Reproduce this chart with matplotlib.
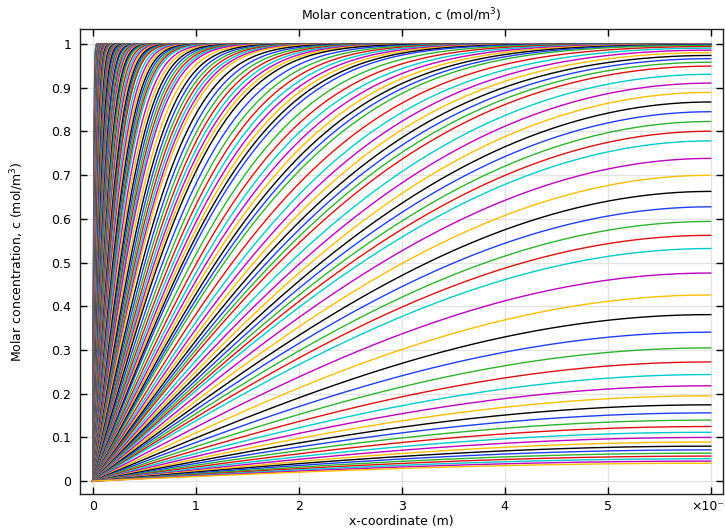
import numpy as np
import matplotlib
matplotlib.use("Agg")
import matplotlib.pyplot as plt

# 1D diffusion out of a slab: c=1 at t=0, c=0 at x=0, no flux at x=L
# output times are dimensionless (D*t/L^2), read off the spacing of the curves
L = 6.0  # domain length, x10^-3 m
tau0 = 1.5e-6
stepSize = [1.9e-7, 3.8e-7, 7.6e-7, 1.5e-6, 3.1e-6, 6.1e-6, 1.2e-5, 2.4e-5,
            4.9e-5, 9.8e-5, 2.0e-4, 3.9e-4, 7.8e-4, 1.56e-3, 3.1e-3, 6.25e-3,
            1.21e-2, 2.24e-2, 4.52e-2]
stepCount = [8, 8, 8, 8, 8, 8, 8, 8, 8, 8, 8, 8, 8, 8, 8, 8, 8, 7, 23]

xTicks = [0, 1, 2, 3, 4, 5, 6]
xTickLabels = ["0", "1", "2", "3", "4", "5", "×10⁻³"]
yTicks = [0, 0.1, 0.2, 0.3, 0.4, 0.5, 0.6, 0.7, 0.8, 0.9, 1]
yTickLabels = ["0", "0.1", "0.2", "0.3", "0.4", "0.5", "0.6", "0.7", "0.8", "0.9", "1"]

# COMSOL default cycle
lineColors = ["#1f3fff", "#2db52d", "#e01010", "#00cccc", "#c000c0", "#ffbf00", "#000000"]

taus = [tau0]
for dt, n in zip(stepSize, stepCount):
    for k in range(n):
        taus.append(taus[-1] + dt)

x = np.concatenate([np.linspace(0, 0.5, 501), np.linspace(0.505, L, 1100)])
modes = np.arange(1, 4000, 2)


def concentration(tau):
    k = modes * np.pi / (2 * L)
    amp = 4 / (modes * np.pi) * np.exp(-(modes * np.pi / 2) ** 2 * tau)
    keep = amp > 1e-12
    return (amp[keep][None, :] * np.sin(np.outer(x, k[keep]))).sum(axis=1)


fig = plt.figure(figsize=(7.25, 5.29), dpi=100)
ax = fig.add_axes([0.110, 0.066, 0.887, 0.879])

for i, tau in enumerate(taus):
    ax.plot(x, concentration(tau), color=lineColors[i % 7], lw=1.0)

ax.set_xlim(-0.126, 6.117)
ax.set_ylim(-0.0297, 1.0343)
ax.set_xticks(xTicks)
ax.set_xticklabels(xTickLabels)
ax.set_yticks(yTicks)
ax.set_yticklabels(yTickLabels)
ax.tick_params(direction="in", length=5, width=1, top=True, right=True, labelsize=9)
ax.tick_params(axis="x", pad=4)
ax.tick_params(axis="y", pad=6)
ax.grid(True, color="#e3e3e3", lw=0.9)
ax.set_axisbelow(True)
for s in ax.spines.values():
    s.set_linewidth(1.0)
    s.set_color("#222222")

ax.set_title("Molar concentration, c (mol/m$^3$)", fontsize=9, pad=7)
ax.set_xlabel("x-coordinate (m)", fontsize=9, va="center")
ax.set_ylabel("Molar concentration, c (mol/m$^3$)", fontsize=9, va="center")
ax.xaxis.set_label_coords(0.5, -0.058)
ax.yaxis.set_label_coords(-0.098, 0.5)

fig.savefig("out.png", dpi=100)
